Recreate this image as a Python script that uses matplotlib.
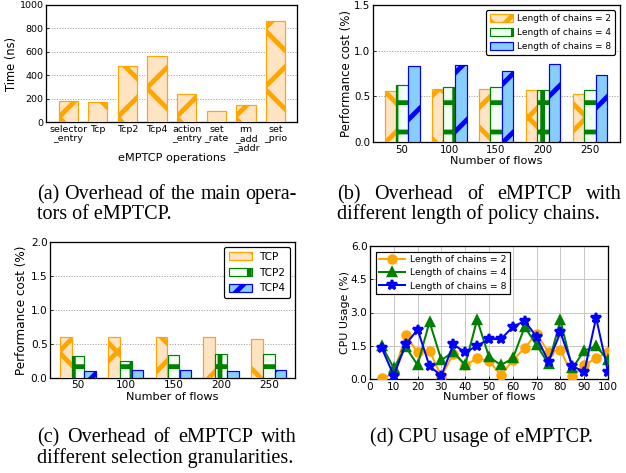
import matplotlib
matplotlib.use('Agg')
import matplotlib.pyplot as plt
import numpy as np
from matplotlib.ticker import FormatStrFormatter

DPI = 176
W, H = 626, 473


def pt(px):
    return px * 72.0 / DPI


plt.rcParams['font.family'] = ['DejaVu Sans']
plt.rcParams['hatch.linewidth'] = pt(4.8)
plt.rcParams['axes.linewidth'] = pt(1.3)

# ---------------- data ----------------
ops = ['selector\n_entry', 'Tcp', 'Tcp2', 'Tcp4', 'action\n_entry',
       'set\n_rate', 'rm\n_add\n_addr', 'set\n_prio']
op_time = [180, 170, 480, 560, 240, 95, 145, 860]

flows = ['50', '100', '150', '200', '250']
chain2 = [0.562, 0.580, 0.577, 0.566, 0.525]
chain4 = [0.620, 0.602, 0.602, 0.573, 0.573]
chain8 = [0.828, 0.840, 0.774, 0.858, 0.737]

gran_tcp = [0.606, 0.596, 0.596, 0.596, 0.580]
gran_tcp2 = [0.325, 0.256, 0.335, 0.350, 0.350]
gran_tcp4 = [0.108, 0.118, 0.123, 0.108, 0.123]

cpu_flows = [5, 10, 15, 20, 25, 30, 35, 40, 45, 50,
             55, 60, 65, 70, 75, 80, 85, 90, 95, 100]
cpu2 = [0.03, 0.25, 1.97, 1.20, 1.28, 0.10, 1.15, 0.63, 0.93, 0.83,
        0.17, 0.85, 1.40, 2.05, 1.20, 1.33, 0.15, 0.63, 0.93, 1.23]
cpu4 = [1.50, 0.48, 1.45, 0.63, 2.58, 0.85, 1.23, 0.63, 2.68, 1.00,
        0.63, 0.93, 2.35, 1.53, 0.68, 2.65, 0.48, 1.28, 1.48, 0.85]
cpu8 = [1.38, 0.15, 1.56, 2.23, 0.58, 0.15, 1.56, 1.20, 1.50, 1.80,
        1.80, 2.35, 2.62, 1.90, 0.78, 2.10, 0.60, 0.30, 2.76, 0.33]

ORANGE, ORANGE_F = '#FFA500', '#FFE4C4'
GREEN, GREEN_F = '#008000', '#F0FFF0'
BLUE, BLUE_F = '#0000FF', '#87CEFA'

fig = plt.figure(figsize=(W / DPI, H / DPI), dpi=DPI)


def add_ax(l, t, r, b):
    return fig.add_axes([l / W, 1 - b / H, (r - l) / W, (b - t) / H])


def style(ax, tick_px):
    ax.tick_params(direction='in', length=pt(3), width=pt(0.8),
                   labelsize=pt(tick_px), pad=pt(2.5))
    for s in ax.spines.values():
        s.set_color('black')


# ---------------- (a) ----------------
ax = add_ax(46, 5, 297, 122)
xa = np.arange(len(ops))
ax.bar(xa, op_time, width=0.65, color=ORANGE_F, edgecolor=ORANGE,
       hatch='x', linewidth=pt(1.2), zorder=3)
ax.set_xlim(-0.75, len(ops) - 0.28)
ax.set_ylim(0, 1000)
ax.set_yticks(np.arange(0, 1001, 200))
ax.set_xticks(xa)
ax.set_xticklabels(ops, linespacing=1.05)
ax.yaxis.grid(True, linestyle=':', color='#999999', linewidth=pt(1.0))
ax.set_axisbelow(True)
style(ax, 9.5)
ax.tick_params(axis='x', length=0)
ax.set_ylabel('Time (ns)', fontsize=pt(11.5), labelpad=pt(1))
ax.set_xlabel('eMPTCP operations', fontsize=pt(11.2), labelpad=pt(1))


def grouped(ax, series, colors, faces, hatches, labels, width=0.25):
    xg = np.arange(len(flows))
    for i, (vals, c, f, h, lab) in enumerate(zip(series, colors, faces, hatches, labels)):
        ax.bar(xg + (i - 1) * width, vals, width=width * 0.97, color=f,
               edgecolor=c, hatch=h, linewidth=pt(1.2), label=lab, zorder=3)
    ax.set_xticks(xg)
    ax.set_xticklabels(flows)


# ---------------- (b) ----------------
ax = add_ax(373, 5, 620, 142)
grouped(ax, [chain2, chain4, chain8], [ORANGE, GREEN, BLUE],
        [ORANGE_F, GREEN_F, BLUE_F], ['x', '+', '/'],
        ['Length of chains = 2', 'Length of chains = 4', 'Length of chains = 8'])
ax.set_xlim(-0.62, 4.64)
ax.set_ylim(0, 1.5)
ax.set_yticks([0.0, 0.5, 1.0, 1.5])
ax.yaxis.set_major_formatter(FormatStrFormatter('%.1f'))
ax.yaxis.grid(True, linestyle=':', color='#999999', linewidth=pt(1.0))
ax.set_axisbelow(True)
style(ax, 10.3)
ax.tick_params(axis='x', length=0)
ax.set_ylabel('Performance cost (%)', fontsize=pt(11.8), labelpad=pt(1.5))
ax.set_xlabel('Number of flows', fontsize=pt(11.3), labelpad=pt(1))
leg = ax.legend(loc='upper right', fontsize=pt(9), handlelength=2.5,
                handleheight=0.9, handletextpad=0.45, labelspacing=0.55,
                borderpad=0.45, borderaxespad=0.55, fancybox=True,
                framealpha=1, edgecolor='black')
leg.get_frame().set_linewidth(pt(1.2))

# ---------------- (c) ----------------
ax = add_ax(50, 242, 295, 378)
grouped(ax, [gran_tcp, gran_tcp2, gran_tcp4], [ORANGE, GREEN, BLUE],
        [ORANGE_F, GREEN_F, BLUE_F], ['x', '+', '/'],
        ['TCP', 'TCP2', 'TCP4'])
ax.set_xlim(-0.59, 4.55)
ax.set_ylim(0, 2.0)
ax.set_yticks([0.0, 0.5, 1.0, 1.5, 2.0])
ax.yaxis.set_major_formatter(FormatStrFormatter('%.1f'))
ax.yaxis.grid(True, linestyle=':', color='#999999', linewidth=pt(1.0))
ax.set_axisbelow(True)
style(ax, 10.5)
ax.tick_params(axis='x', length=0)
ax.set_ylabel('Performance cost (%)', fontsize=pt(12), labelpad=pt(2.5))
ax.set_xlabel('Number of flows', fontsize=pt(11.3), labelpad=pt(1))
leg = ax.legend(loc='upper right', fontsize=pt(10.5), handlelength=2.2,
                handleheight=0.8, handletextpad=0.7, labelspacing=0.55,
                borderpad=0.45, borderaxespad=0.48, fancybox=True,
                framealpha=1, edgecolor='black')
leg.get_frame().set_linewidth(pt(1.2))

# ---------------- (d) ----------------
ax = add_ax(370, 246, 608, 379)
ax.plot(cpu_flows, cpu2, color=ORANGE, marker='o', markersize=pt(8),
        linewidth=pt(2), label='Length of chains = 2', zorder=3)
ax.plot(cpu_flows, cpu4, color=GREEN, marker='^', markersize=pt(8),
        linewidth=pt(2), label='Length of chains = 4', zorder=3)
ax.plot(cpu_flows, cpu8, color=BLUE, marker='*', markersize=pt(10),
        linewidth=pt(2), label='Length of chains = 8', zorder=3)
ax.set_xlim(0, 100)
ax.set_ylim(0, 6.0)
ax.set_xticks(np.arange(0, 101, 10))
ax.set_yticks([0.0, 1.5, 3.0, 4.5, 6.0])
ax.yaxis.set_major_formatter(FormatStrFormatter('%.1f'))
ax.grid(True, linestyle='-', color='#C8C8C8', linewidth=pt(1.0))
ax.set_axisbelow(True)
style(ax, 10.5)
ax.set_ylabel('CPU Usage (%)', fontsize=pt(11), labelpad=pt(1))
ax.set_xlabel('Number of flows', fontsize=pt(11.3), labelpad=pt(0))
leg = ax.legend(loc='upper left', fontsize=pt(9.3), handlelength=2.8,
                handletextpad=0.5, labelspacing=0.45, borderpad=0.4,
                borderaxespad=0.6, fancybox=False, framealpha=1,
                edgecolor='black')
leg.get_frame().set_linewidth(pt(1.2))

# ---------------- captions ----------------
CAP = pt(20.2)
SERIF = ['Liberation Serif', 'DejaVu Serif']
renderer = fig.canvas.get_renderer()


def justify(line, x0, x1, ybase):
    words = line.split(' ')
    texts = [fig.text(0, 0, w, fontsize=CAP, family=SERIF, va='baseline')
             for w in words]
    widths = [t.get_window_extent(renderer).width for t in texts]
    gap = (x1 - x0 - sum(widths)) / (len(words) - 1)
    x = x0
    for t, w in zip(texts, widths):
        t.set_position((x / W, 1 - ybase / H))
        x += w + gap


def plain(line, x, ybase, ha='left'):
    fig.text(x / W, 1 - ybase / H, line, fontsize=CAP, family=SERIF,
             va='baseline', ha=ha)


justify('(a) Overhead of the main opera-', 37, 297, 199)
plain('tors of eMPTCP.', 37, 219)
justify('(b) Overhead of eMPTCP with', 337, 622, 199)
plain('different length of policy chains.', 337, 219)
justify('(c) Overhead of eMPTCP with', 37, 297, 442)
plain('different selection granularities.', 37, 463)
plain('(d) CPU usage of eMPTCP.', 481, 442, ha='center')

fig.savefig('out.png', dpi=DPI)
